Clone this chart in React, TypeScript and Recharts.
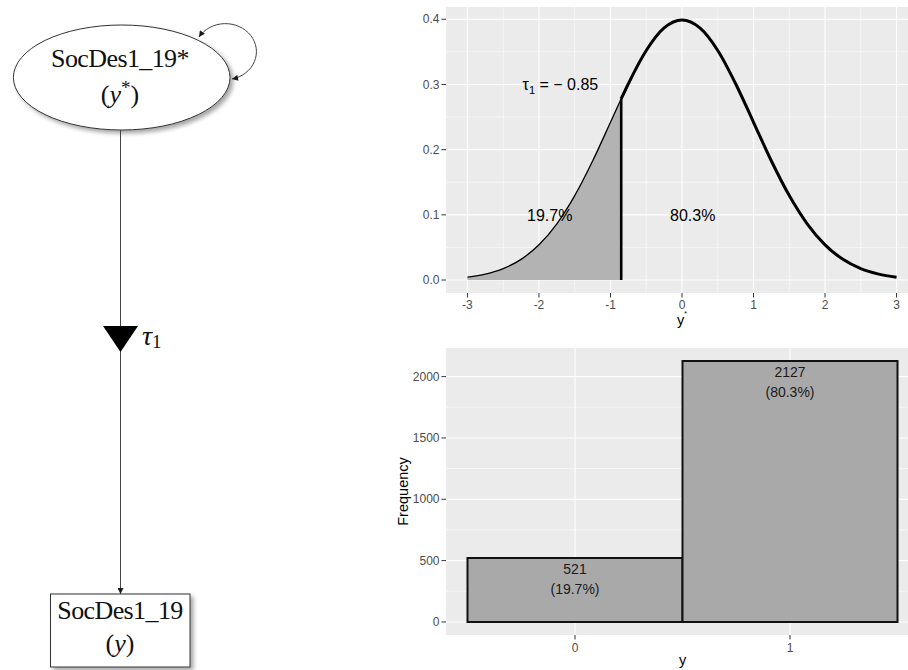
import React from 'react';
import {
  ComposedChart,
  Area,
  Line,
  Bar,
  XAxis,
  YAxis,
  CartesianGrid,
  ReferenceDot,
  LabelList,
} from 'recharts';

const SANS = '"Liberation Sans", Arial, Helvetica, sans-serif';
const SERIF = '"Liberation Serif", "DejaVu Serif", serif';

// ---------- Top panel: latent density ----------
const densityX = [-3, -2.75, -2.5, -2.25, -2, -1.75, -1.5, -1.25, -1, -0.85, -0.75, -0.5, -0.25, 0, 0.25, 0.5, 0.75, 1, 1.25, 1.5, 1.75, 2, 2.25, 2.5, 2.75, 3];
const densityY = [0.0044, 0.0091, 0.0175, 0.0317, 0.054, 0.0863, 0.1295, 0.1826, 0.242, 0.278, 0.3011, 0.3521, 0.3867, 0.3989, 0.3867, 0.3521, 0.3011, 0.242, 0.1826, 0.1295, 0.0863, 0.054, 0.0317, 0.0175, 0.0091, 0.0044];
const tau = -0.85;
const tauDensity = 0.278;
const xTicksTop = [-3, -2, -1, 0, 1, 2, 3];
const xMinorTop = [-2.5, -1.5, -0.5, 0.5, 1.5, 2.5];
const yTicksTop = [0, 0.1, 0.2, 0.3, 0.4];
const yMinorTop = [0.05, 0.15, 0.25, 0.35];
const shareText = ['19.7%', '80.3%'];
const shareX = [-1.85, 0.15];
const shareY = [0.1, 0.1];
const tauLabelX = -1.7;
const tauLabelY = 0.3;
const tauLabelRest = ' = \u2212 0.85';

// ---------- Bottom panel: observed frequencies ----------
const categories = [0, 1];
const counts = [521, 2127];
const percentLabels = ['(19.7%)', '(80.3%)'];
const yTicksBottom = [0, 500, 1000, 1500, 2000];
const yMinorBottom = [250, 750, 1250, 1750];

const densityRows = densityX.map((x, i) => ({
  x,
  lower: x <= tau ? densityY[i] : null,
  upper: x >= tau ? densityY[i] : null,
}));
const tauSegment = [
  { x: tau, d: 0 },
  { x: tau, d: tauDensity },
];
const barRows = categories.map((c, i) => ({ y: c, n: counts[i] }));

const TICK_FILL = '#4D4D4D';
const TICK_SIZE = 12;

const makeXTick = (fmt: (v: any) => string) => (p: any) => (
  <text
    x={p.x}
    y={p.y}
    dy={9}
    textAnchor="middle"
    fontSize={TICK_SIZE}
    fontFamily={SANS}
    fill={TICK_FILL}
  >
    {fmt(p.payload.value)}
  </text>
);
const makeYTick = (fmt: (v: any) => string) => (p: any) => (
  <text
    x={p.x}
    y={p.y}
    dy={4.2}
    textAnchor="end"
    fontSize={TICK_SIZE}
    fontFamily={SANS}
    fill={TICK_FILL}
  >
    {fmt(p.payload.value)}
  </text>
);
const plain = (v: any) => String(v);
const oneDec = (v: any) => Number(v).toFixed(1);

const topXTitle = (props: any) => {
  const vb = props.viewBox || {};
  const cx = vb.x + vb.width / 2;
  return (
    <text x={cx} y={vb.y + 32} textAnchor="middle" fontSize={14.5} fontFamily={SANS} fill="#000">
      y<tspan fontSize={7} dy={-9}>*</tspan>
    </text>
  );
};

const bottomXTitle = (props: any) => {
  const vb = props.viewBox || {};
  return (
    <text x={vb.x + vb.width / 2} y={vb.y + 30} textAnchor="middle" fontSize={14.5} fontFamily={SANS} fill="#000">
      y
    </text>
  );
};

const freqTitle = (props: any) => {
  const vb = props.viewBox || {};
  const x = vb.x + 8;
  const y = vb.y + vb.height / 2;
  return (
    <text
      x={x}
      y={y}
      transform={`rotate(-90, ${x}, ${y})`}
      textAnchor="middle"
      dominantBaseline="central"
      fontSize={14.5}
      fontFamily={SANS}
      fill="#000"
    >
      Frequency
    </text>
  );
};

const renderBarLabel = (props: any) => {
  const { x, y, width, index, value } = props;
  const cx = Number(x) + Number(width) / 2;
  const top = Number(y);
  return (
    <g>
      <text x={cx} y={top + 16} textAnchor="middle" fontSize={14} fontFamily={SANS} fill="#1A1A1A">
        {value}
      </text>
      <text x={cx} y={top + 36} textAnchor="middle" fontSize={14} fontFamily={SANS} fill="#1A1A1A">
        {percentLabels[index]}
      </text>
    </g>
  );
};

function Diagram() {
  return (
    <svg width={395} height={670} style={{ position: 'absolute', left: 0, top: 0 }}>
      <defs>
        <marker id="ah" viewBox="0 0 10 10" refX="10" refY="5" markerWidth="8" markerHeight="6" markerUnits="userSpaceOnUse" orient="auto-start-reverse">
          <path d="M0,0 L10,5 L0,10 z" fill="#1A1A1A" />
        </marker>
        <filter id="sh" x="-20%" y="-20%" width="140%" height="140%">
          <feDropShadow dx="3" dy="3" stdDeviation="2" floodColor="#000" floodOpacity="0.35" />
        </filter>
      </defs>
      {/* self loop */}
      <path d="M 199 37 A 31 28 0 1 1 232 79" fill="none" stroke="#444" strokeWidth={1} markerStart="url(#ah)" markerEnd="url(#ah)" />
      {/* latent ellipse */}
      <ellipse cx={121.7} cy={77.5} rx={108.3} ry={52.5} fill="#fff" stroke="#333" strokeWidth={1} filter="url(#sh)" />
      <text x={120} y={67} textAnchor="middle" fontSize={26} letterSpacing={-0.6} fontFamily={SERIF} fill="#111">
        SocDes1_19*
      </text>
      <text x={120} y={103} textAnchor="middle" fontSize={26} fontFamily={SERIF} fill="#111">
        (<tspan fontStyle="italic">y</tspan>
        <tspan fontSize={19} dy={-9}>*</tspan>
        <tspan dy={9}>)</tspan>
      </text>
      {/* path to observed */}
      <line x1={120.5} y1={130} x2={120.5} y2={594} stroke="#444" strokeWidth={1} markerEnd="url(#ah)" />
      {/* threshold triangle */}
      <polygon points="103,326 138,326 120.5,352" fill="#000" />
      <text x={142} y={345} fontSize={28} fontStyle="italic" fontFamily={SERIF} fill="#111">
        τ<tspan fontStyle="normal" fontSize={19} dy={3}>1</tspan>
      </text>
      {/* observed box */}
      <rect x={50.5} y={594} width={139.5} height={73} fill="#fff" stroke="#333" strokeWidth={1} filter="url(#sh)" />
      <text x={120} y={619} textAnchor="middle" fontSize={26} letterSpacing={-0.6} fontFamily={SERIF} fill="#111">
        SocDes1_19
      </text>
      <text x={120} y={652} textAnchor="middle" fontSize={26} fontFamily={SERIF} fill="#111">
        (<tspan fontStyle="italic">y</tspan>)
      </text>
    </svg>
  );
}

export default function App() {
  return (
    <div style={{ position: 'absolute', left: 0, top: 0, width: 908, height: 670, overflow: 'hidden', background: '#fff' }}>
      <Diagram />
      <div style={{ position: 'absolute', left: 395, top: 0 }}>
        <ComposedChart width={523} height={335} data={densityRows} margin={{ top: 7, right: 0, bottom: 0, left: 0 }}>
          <CartesianGrid fill="#EBEBEB" fillOpacity={1} stroke="#FFFFFF" strokeWidth={0.55} horizontalValues={yMinorTop} verticalValues={xMinorTop} />
          <CartesianGrid fill="none" stroke="#FFFFFF" strokeWidth={1.1} horizontalValues={yTicksTop} verticalValues={xTicksTop} />
          <XAxis
            type="number"
            dataKey="x"
            domain={[-3.3, 3.3]}
            allowDataOverflow
            ticks={xTicksTop}
            interval={0}
            height={42}
            axisLine={false}
            stroke="#333333"
            tickLine={{ stroke: '#333333' }}
            tickSize={4.5}
            tickMargin={2}
            tick={makeXTick(plain)}
            label={topXTitle}
          />
          <YAxis
            type="number"
            domain={[-0.0199, 0.4188]}
            allowDataOverflow
            ticks={yTicksTop}
            interval={0}
            width={51}
            axisLine={false}
            stroke="#333333"
            tickLine={{ stroke: '#333333' }}
            tickSize={4.5}
            tickMargin={2}
            tick={makeYTick(oneDec)}
          />
          <Area
            type="monotone"
            dataKey="lower"
            baseValue={0}
            fill="#B3B3B3"
            fillOpacity={1}
            stroke="#000"
            strokeWidth={1.3}
            dot={false}
            activeDot={false}
            isAnimationActive={false}
          />
          <Line type="monotone" dataKey="upper" stroke="#000" strokeWidth={3} dot={false} activeDot={false} isAnimationActive={false} />
          <Line data={tauSegment} dataKey="d" type="linear" stroke="#000" strokeWidth={2.6} dot={false} activeDot={false} isAnimationActive={false} />
          <ReferenceDot
            x={tauLabelX}
            y={tauLabelY}
            r={0}
            ifOverflow="visible"
            shape={(p: any) => (
              <text x={p.cx} y={p.cy + 6} textAnchor="middle" fontSize={16} fontFamily={SANS} fill="#000">
                τ<tspan fontSize={11} dy={4}>1</tspan>
                <tspan dy={-4}>{tauLabelRest}</tspan>
              </text>
            )}
          />
          {shareText.map((t, i) => (
            <ReferenceDot
              key={t}
              x={shareX[i]}
              y={shareY[i]}
              r={0}
              ifOverflow="visible"
              shape={(p: any) => (
                <text x={p.cx} y={p.cy + 6} textAnchor="middle" fontSize={16} fontFamily={SANS} fill="#000">
                  {t}
                </text>
              )}
            />
          ))}
        </ComposedChart>
      </div>
      <div style={{ position: 'absolute', left: 395, top: 335 }}>
        <ComposedChart width={524} height={335} data={barRows} margin={{ top: 13, right: 0, bottom: 0, left: 0 }} barCategoryGap={0} barGap={0}>
          <CartesianGrid fill="#EBEBEB" fillOpacity={1} stroke="#FFFFFF" strokeWidth={0.55} horizontalValues={yMinorBottom} vertical={false} />
          <CartesianGrid fill="none" stroke="#FFFFFF" strokeWidth={1.1} horizontalValues={yTicksBottom} verticalValues={categories} />
          <XAxis
            type="number"
            dataKey="y"
            domain={[-0.6, 1.6]}
            allowDataOverflow
            ticks={categories}
            interval={0}
            height={35}
            axisLine={false}
            stroke="#333333"
            tickLine={{ stroke: '#333333' }}
            tickSize={4.5}
            tickMargin={3}
            tick={makeXTick(plain)}
            label={bottomXTitle}
          />
          <YAxis
            type="number"
            domain={[-106.35, 2233.35]}
            allowDataOverflow
            ticks={yTicksBottom}
            interval={0}
            width={51}
            axisLine={false}
            stroke="#333333"
            tickLine={{ stroke: '#333333' }}
            tickSize={4.5}
            tickMargin={2}
            tick={makeYTick(plain)}
            label={freqTitle}
          />
          <Bar dataKey="n" fill="#A9A9A9" stroke="#111" strokeWidth={2} isAnimationActive={false}>
            <LabelList dataKey="n" content={renderBarLabel} />
          </Bar>
        </ComposedChart>
      </div>
    </div>
  );
}
